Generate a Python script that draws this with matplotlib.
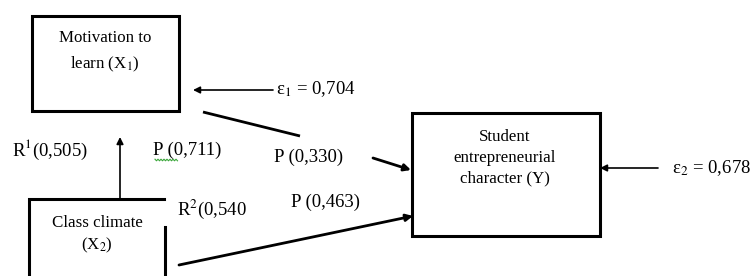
import matplotlib
matplotlib.use("Agg")
import matplotlib.pyplot as plt
from matplotlib.patches import Rectangle
import numpy as np

# ---- data ----
node_names = ["Motivation to\nlearn (X$_1$)", "Class climate\n(X$_2$)", "Student\nentrepreneurial\ncharacter (Y)"]
error_labels = ["ε$_1$ = 0,704", "ε$_2$ = 0,678"]
r_labels = ["R$^1$(0,505)", "R$^2$(0,540"]
p_labels = ["P (0,711)", "P (0,330)", "P (0,463)"]

plt.rcParams['font.family'] = ['Liberation Serif', 'DejaVu Serif']
plt.rcParams['mathtext.fontset'] = 'stix'

fig = plt.figure(figsize=(7.52, 2.76), dpi=100)
ax = fig.add_axes([0, 0, 1, 1])
ax.set_xlim(0, 752)
ax.set_ylim(276, 0)
ax.axis('off')

lw_box = 2.2
# boxes
ax.add_patch(Rectangle((32, 16), 147, 95, fill=False, lw=lw_box, ec='black'))
ax.add_patch(Rectangle((412, 113), 188, 123, fill=False, lw=lw_box, ec='black'))
# X2 box (runs off the bottom; upper part of right edge missing)
ax.plot([29, 29, 164], [290, 199, 199], color='black', lw=lw_box, solid_joinstyle='miter')
ax.plot([165, 165], [227, 290], color='black', lw=lw_box)

box_fs = 12.2
ax.text(105, 52, node_names[0], ha='center', va='center', fontsize=box_fs, linespacing=1.7)
ax.text(97, 235, node_names[1], ha='center', va='center', fontsize=box_fs, linespacing=1.35)
ax.text(505, 158, node_names[2], ha='center', va='center', fontsize=box_fs, linespacing=1.4)

lab_fs = 13.5
ax.annotate('', xy=(193, 90), xytext=(273, 90),
            arrowprops=dict(arrowstyle='-|>', lw=1.2, color='black', mutation_scale=10, shrinkA=0, shrinkB=0))
ax.text(276, 89, error_labels[0], ha='left', va='center', fontsize=lab_fs)

ax.annotate('', xy=(600, 168), xytext=(658, 168),
            arrowprops=dict(arrowstyle='-|>', lw=1.2, color='black', mutation_scale=10, shrinkA=0, shrinkB=0))
ax.text(672, 168, error_labels[1], ha='left', va='center', fontsize=lab_fs)

# X1 -> Y (broken line)
ax.plot([203, 300], [112, 136], color='black', lw=2.0, solid_capstyle='butt')
ax.annotate('', xy=(411, 170), xytext=(373, 158),
            arrowprops=dict(arrowstyle='-|>', lw=2.0, color='black', mutation_scale=10, shrinkA=0, shrinkB=0))

# X2 -> Y
ax.annotate('', xy=(413, 216), xytext=(179, 265),
            arrowprops=dict(arrowstyle='-|>', lw=2.0, color='black', mutation_scale=10, shrinkA=0, shrinkB=0))

# X2 -> X1
ax.annotate('', xy=(120, 137), xytext=(120, 199),
            arrowprops=dict(arrowstyle='-|>', lw=1.2, color='black', mutation_scale=10, shrinkA=0, shrinkB=0))

ax.text(12, 150, r_labels[0], ha='left', va='center', fontsize=lab_fs)
ax.text(177, 209, r_labels[1], ha='left', va='center', fontsize=lab_fs)
ax.text(153, 150, p_labels[0], ha='left', va='center', fontsize=lab_fs)
ax.text(274, 157, p_labels[1], ha='left', va='center', fontsize=lab_fs)
ax.text(291, 202, p_labels[2], ha='left', va='center', fontsize=lab_fs)

# spellcheck squiggle under P
xs = np.arange(155, 179, 1.5)
ys = 160 + np.where(np.arange(len(xs)) % 2 == 0, -0.8, 0.8)
ax.plot(xs, ys, color='#3aa63a', lw=0.8)

fig.savefig('out.png', dpi=100)
